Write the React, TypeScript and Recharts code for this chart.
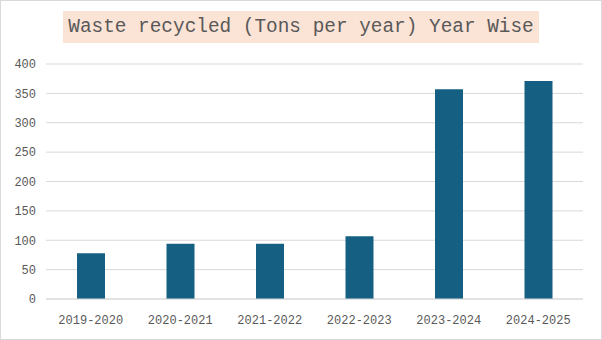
import { BarChart, Bar, XAxis, YAxis, CartesianGrid } from 'recharts'

const years = ['2019-2020', '2020-2021', '2021-2022', '2022-2023', '2023-2024', '2024-2025']
const tonsRecycled = [78, 94, 94, 107, 357, 371]
const yTicks = [0, 50, 100, 150, 200, 250, 300, 350, 400]

const data = years.map((year, i) => ({ year, tons: tonsRecycled[i] }))

const FONT = '"Liberation Mono", "DejaVu Sans Mono", monospace'
const TEXT = '#595959'

export default function App() {
  return (
    <div
      style={{
        position: 'fixed',
        top: 0,
        left: 0,
        width: 602,
        height: 340,
        background: '#fff',
        border: '1px solid #d9d9d9',
        boxSizing: 'border-box',
      }}
    >
      {/* title box */}
      <div
        style={{
          position: 'absolute',
          left: 62,
          top: 10,
          width: 476,
          height: 32,
          background: '#fbe3d6',
          fontFamily: FONT,
          fontSize: 19.4,
          color: TEXT,
          lineHeight: '32px',
          textAlign: 'center',
          whiteSpace: 'nowrap',
        }}
      >
        Waste recycled (Tons per year) Year Wise
      </div>
      <div style={{ position: 'absolute', left: -1, top: -1 }}>
        <BarChart
          width={602}
          height={340}
          data={data}
          margin={{ top: 64, right: 19, left: 0, bottom: 11 }}
        >
          <CartesianGrid vertical={false} stroke="#d9d9d9" />
          <XAxis
            dataKey="year"
            axisLine={{ stroke: '#d9d9d9' }}
            tickLine={false}
            tickMargin={10}
            height={30}
            interval={0}
            tick={{ fill: TEXT, fontSize: 12, fontFamily: FONT }}
          />
          <YAxis
            domain={[0, 400]}
            ticks={yTicks}
            axisLine={false}
            tickLine={false}
            tickMargin={4}
            width={46}
            tick={{ fill: TEXT, fontSize: 12, fontFamily: FONT }}
          />
          <Bar dataKey="tons" fill="#156082" barSize={28} isAnimationActive={false} />
        </BarChart>
      </div>
    </div>
  )
}
